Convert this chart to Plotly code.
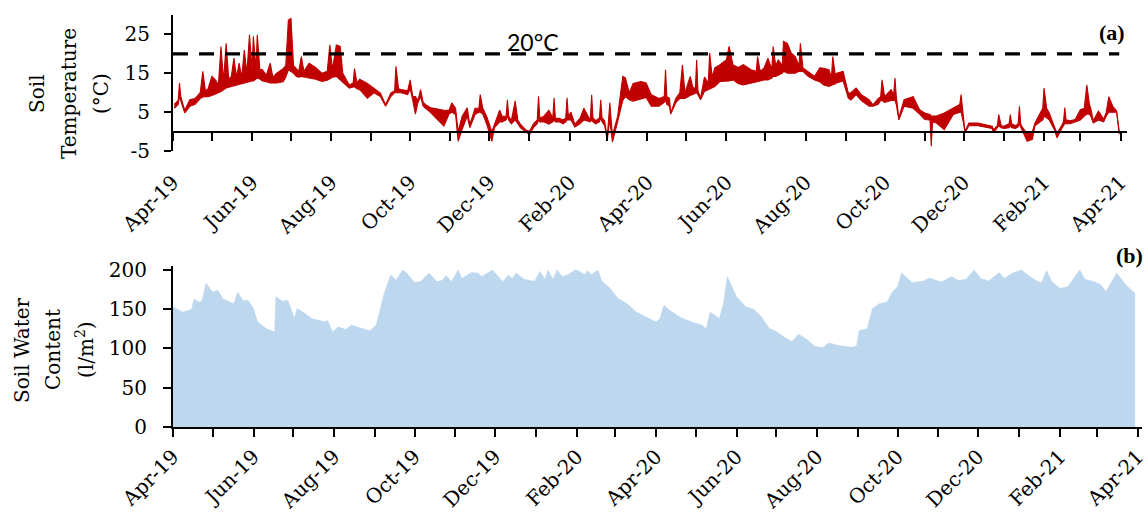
import plotly.graph_objects as go

# ---- Soil temperature (°C): upper and lower edge of the daily record ----
temp_dates = [
    "2019-04-02", "2019-04-05", "2019-04-06", "2019-04-07", "2019-04-10", "2019-04-14", "2019-04-18", "2019-04-22", "2019-04-24", "2019-04-26", "2019-04-28",
    "2019-05-01", "2019-05-04", "2019-05-06", "2019-05-08", "2019-05-10", "2019-05-12", "2019-05-14", "2019-05-16", "2019-05-18", "2019-05-20", "2019-05-22", "2019-05-24", "2019-05-26", "2019-05-28", "2019-05-30",
    "2019-06-01", "2019-06-02", "2019-06-04", "2019-06-05", "2019-06-07", "2019-06-09", "2019-06-12", "2019-06-15", "2019-06-17", "2019-06-20", "2019-06-25", "2019-06-27", "2019-06-29",
    "2019-07-01", "2019-07-03", "2019-07-05", "2019-07-07", "2019-07-09", "2019-07-11", "2019-07-15", "2019-07-20", "2019-07-25", "2019-07-29", "2019-07-31",
    "2019-08-02", "2019-08-05", "2019-08-08", "2019-08-10", "2019-08-15", "2019-08-18", "2019-08-19", "2019-08-21", "2019-08-23", "2019-08-29",
    "2019-09-03", "2019-09-08", "2019-09-12", "2019-09-16", "2019-09-19", "2019-09-20", "2019-09-22", "2019-09-24", "2019-09-29",
    "2019-10-01", "2019-10-03", "2019-10-05", "2019-10-07", "2019-10-09", "2019-10-11", "2019-10-13", "2019-10-17", "2019-10-22", "2019-10-27", "2019-10-31",
    "2019-11-02", "2019-11-05", "2019-11-07", "2019-11-10", "2019-11-14", "2019-11-16", "2019-11-20", "2019-11-23", "2019-11-24", "2019-11-26", "2019-11-29",
    "2019-12-03", "2019-12-05", "2019-12-09", "2019-12-11", "2019-12-14", "2019-12-15", "2019-12-16", "2019-12-18", "2019-12-21", "2019-12-23", "2019-12-25", "2019-12-29",
    "2020-01-01", "2020-01-04", "2020-01-07", "2020-01-08", "2020-01-09", "2020-01-12", "2020-01-16", "2020-01-19", "2020-01-20", "2020-01-21", "2020-01-24", "2020-01-27", "2020-01-29", "2020-01-30", "2020-01-31",
    "2020-02-02", "2020-02-05", "2020-02-09", "2020-02-12", "2020-02-16", "2020-02-17", "2020-02-18", "2020-02-19", "2020-02-21", "2020-02-24", "2020-02-25", "2020-02-26", "2020-02-28",
    "2020-03-01", "2020-03-03", "2020-03-05", "2020-03-09", "2020-03-11", "2020-03-13", "2020-03-15", "2020-03-18", "2020-03-21", "2020-03-27", "2020-03-31",
    "2020-04-04", "2020-04-10", "2020-04-14", "2020-04-15", "2020-04-16", "2020-04-18", "2020-04-19", "2020-04-23", "2020-04-26", "2020-04-28", "2020-04-30",
    "2020-05-04", "2020-05-06", "2020-05-08", "2020-05-09", "2020-05-10", "2020-05-12", "2020-05-15", "2020-05-18", "2020-05-19", "2020-05-21", "2020-05-23", "2020-05-27",
    "2020-06-01", "2020-06-03", "2020-06-06", "2020-06-10", "2020-06-14", "2020-06-20", "2020-06-24", "2020-06-25", "2020-06-27", "2020-06-30",
    "2020-07-03", "2020-07-06", "2020-07-07", "2020-07-09", "2020-07-11", "2020-07-14", "2020-07-15", "2020-07-18", "2020-07-21", "2020-07-24", "2020-07-27", "2020-07-28", "2020-07-30",
    "2020-08-03", "2020-08-08", "2020-08-12", "2020-08-15", "2020-08-19", "2020-08-21", "2020-08-22", "2020-08-24", "2020-08-25", "2020-08-30",
    "2020-09-03", "2020-09-05", "2020-09-09", "2020-09-13", "2020-09-19", "2020-09-22", "2020-09-26", "2020-09-28", "2020-09-29",
    "2020-10-01", "2020-10-06", "2020-10-08", "2020-10-09", "2020-10-10", "2020-10-12", "2020-10-16", "2020-10-23", "2020-10-28",
    "2020-11-01", "2020-11-05", "2020-11-06", "2020-11-07", "2020-11-10", "2020-11-16", "2020-11-23", "2020-11-28", "2020-11-29",
    "2020-12-01", "2020-12-02", "2020-12-05", "2020-12-12", "2020-12-23", "2020-12-24", "2020-12-27", "2020-12-28", "2020-12-30",
    "2021-01-01", "2021-01-05", "2021-01-06", "2021-01-07", "2021-01-10", "2021-01-12", "2021-01-13", "2021-01-14", "2021-01-15", "2021-01-19", "2021-01-23", "2021-01-25", "2021-01-29", "2021-01-31",
    "2021-02-01", "2021-02-03", "2021-02-05", "2021-02-09", "2021-02-11", "2021-02-15", "2021-02-16", "2021-02-17", "2021-02-18", "2021-02-21", "2021-02-25",
    "2021-03-01", "2021-03-04", "2021-03-06", "2021-03-08", "2021-03-09", "2021-03-11", "2021-03-15", "2021-03-19", "2021-03-21", "2021-03-23", "2021-03-26", "2021-03-29", "2021-03-31",
]
temp_high = [
    7, 8, 12.5, 9, 5.5, 8.2, 8.5, 10, 15.5, 10.5, 11,
    14.2, 13.2, 12, 21.9, 13, 22.7, 13.5, 14.2, 18.9, 14, 17.6, 14, 21, 15, 24.9,
    16, 24.5, 16, 24.9, 16, 15.9, 14.5, 17.6, 14, 15, 16.2, 17, 28.7,
    29.1, 17, 16.3, 15.5, 19.3, 15.5, 17.6, 16.5, 15, 15.5, 22.3,
    16, 22.3, 21.9, 15, 12, 12.5, 16.2, 12.5, 13.5, 12.4,
    11.2, 9.9, 6.9, 9.9, 10.5, 16.8, 11, 10.8, 10.5,
    13.3, 9, 9, 8, 10.8, 7.5, 6.9, 6.1, 5.8, 5.5, 5.5,
    7.4, 6, 0, 3.9, 6.1, 1.8, 6, 6, 9.5, 6, 3.9,
    0, 1.9, 5.5, 3.9, 4, 8.2, 4, 2.8, 7.9, 3, 1.9, 0.5,
    0, 1.9, 3, 9.1, 3.5, 3.9, 5.5, 3.5, 8.7, 3.5, 3.4, 3, 3.5, 8.7, 4,
    5, 1.9, 3.4, 6, 3.4, 3.5, 9.5, 3.5, 2.8, 3.5, 8.2, 3.5, 2.8,
    -1.6, 7.4, -1, 3.9, 9.9, 14.2, 13.8, 10, 12.4, 12.9, 12.5,
    9.5, 8.5, 9, 15.9, 9, 8.6, 4.8, 8.6, 10, 17.2, 10,
    14.2, 11.5, 11, 18.5, 10.5, 8.6, 14, 12.5, 20.2, 14, 16.4, 17.2,
    18.5, 21.9, 17.2, 16.5, 17.2, 15.9, 15.5, 19.3, 15.5, 16.4,
    18.9, 16, 21.9, 17, 18.5, 17, 23.2, 22.7, 20.2, 19.3, 17, 22.7, 16.4,
    15.5, 14.2, 16.4, 16.3, 15.9, 14, 19.3, 14.5, 15, 15.5,
    9.9, 10, 11.2, 9.5, 8.2, 6.9, 8.5, 9, 13.3,
    9, 10.8, 9.5, 13.8, 9, 3.5, 8.2, 9, 5.6,
    4.8, 4.4, 4, 4, 4, 4.8, 6.1, 7, 9.5,
    4, 0, 2.2, 2.2, 1.4, 0.5, 1.5, 4.4, 1.5,
    1.4, 2, 4.4, 2, 1.5, 2, 6.5, 2, 1.2, -0.5, 0, 2.2, 4.8, 6,
    11.2, 6, 4.8, 1.5, -0.5, 1.8, 2.5, 6.2, 3, 2.8, 3.1,
    5.6, 6, 12, 7, 6, 2.8, 5.3, 3.2, 5, 9, 6.5, 5.3, 0,
]
temp_low = [
    6, 7, 9, 8, 4.8, 6.5, 7, 8.5, 8.9, 9, 9,
    9.3, 9.6, 10, 10.3, 10.8, 11.2, 11.4, 11.6, 11.8, 12, 12, 12.2, 12.5, 12.7, 12.9,
    13, 13, 13.5, 13.8, 13.5, 13, 12.8, 12.5, 12.5, 12.5, 12.8, 14, 15.9,
    15.5, 15, 14.2, 14, 14.2, 14, 13.8, 13.5, 12.9, 13.2, 13.5,
    14, 14.2, 13.3, 12.8, 11.2, 11.5, 11.5, 11, 10.8, 8.6,
    10, 9, 6.5, 9, 10, 10, 10, 10, 9.5,
    11, 8, 4.5, 7.5, 9, 6.5, 6, 4.8, 3.1, 1.4, 4.5,
    5, 4.4, -2.5, 0.5, 4, 1, 4.4, 5, 5, 4.5, 1.9,
    -2.5, 1, 2.5, 2.5, 3, 4, 3, 2, 3, 2, 1, 0,
    -0.8, 1, 2, 3, 2.5, 2.5, 1.9, 2.5, 3, 2.5, 2.5, 2, 2.5, 3, 3,
    3, 1.2, 2, 3, 2.5, 2.5, 3, 2.5, 2, 2.5, 3.5, 2.5, 1.5,
    -2.2, 3, -2.7, 2.5, 5, 8, 9, 8.2, 7.8, 8.5, 8.8,
    6.5, 6.5, 7.5, 8, 7, 6.5, 4.5, 7.5, 8.5, 8.5, 8.5,
    9.3, 9.6, 9.8, 10, 9.5, 8.2, 10.3, 10.8, 11, 11.3, 11.6, 12.9,
    12.9, 13, 13.3, 12.4, 12, 12.4, 12.8, 12.9, 13, 13.3,
    13.3, 13.8, 14.2, 14.2, 14.5, 15, 15.5, 15, 15, 15, 15.5, 15.5, 15.5,
    14.2, 13.3, 12.8, 12, 11.6, 11.8, 12, 12.3, 12.5, 13,
    8.6, 8.1, 9.5, 8, 6.5, 6.5, 7, 8, 8,
    7.5, 8, 8, 8, 7, 3, 6.5, 6, 4.5,
    3.1, 3, -3.8, 2.5, 2.2, 0.5, 4.4, 5, 5,
    2, -0.3, 1.5, 1.5, 0.8, -0.3, 1, 1.5, 1,
    0.8, 1, 1.5, 1, 0.8, 1.2, 2, 1.2, 0.5, -2.5, -2, 1.5, 2.5, 3,
    4, 3.5, 3, 0.5, -1.6, 1, 1.5, 2, 2, 2, 2.5,
    3, 4, 4.5, 4.5, 4, 2.2, 3, 2.5, 4, 5, 5, 5, -0.7,
]
assert len(temp_dates) == len(temp_high) == len(temp_low)

temp_ticks = [-5, 5, 15, 25]
temp_tick_text = ["-5", "5", "15", "25"]
threshold_c = 20
threshold_label = "20°C"
temp_title_lines = ["Soil", "Temperature", "(°C)"]

# ---- Soil water content (l/m²) ----
swc_dates = [
    "2019-04-01", "2019-04-08", "2019-04-12", "2019-04-15", "2019-04-17", "2019-04-21", "2019-04-23",
    "2019-04-26", "2019-05-01", "2019-05-05", "2019-05-09", "2019-05-14", "2019-05-17", "2019-05-20",
    "2019-05-24", "2019-05-28", "2019-06-01", "2019-06-04", "2019-06-11", "2019-06-17", "2019-06-18",
    "2019-06-23", "2019-06-27", "2019-07-02", "2019-07-04", "2019-07-10", "2019-07-15", "2019-07-20",
    "2019-07-25", "2019-07-27", "2019-07-31", "2019-08-04", "2019-08-10", "2019-08-14", "2019-08-20",
    "2019-08-28", "2019-09-02", "2019-09-04", "2019-09-07", "2019-09-08", "2019-09-13", "2019-09-17",
    "2019-09-22", "2019-09-25", "2019-10-01", "2019-10-06", "2019-10-12", "2019-10-18", "2019-10-22",
    "2019-10-25", "2019-10-29", "2019-11-03", "2019-11-06", "2019-11-13", "2019-11-18", "2019-11-21",
    "2019-11-29", "2019-12-07", "2019-12-11", "2019-12-14", "2019-12-17", "2019-12-23", "2019-12-31",
    "2020-01-04", "2020-01-08", "2020-01-10", "2020-01-14", "2020-01-17", "2020-01-21", "2020-01-25",
    "2020-01-31", "2020-02-03", "2020-02-07", "2020-02-09", "2020-02-12", "2020-02-17", "2020-02-20",
    "2020-02-26", "2020-03-03", "2020-03-10", "2020-03-17", "2020-03-25", "2020-04-01", "2020-04-04",
    "2020-04-07", "2020-04-11", "2020-04-19", "2020-04-28", "2020-05-06", "2020-05-09", "2020-05-12",
    "2020-05-19", "2020-05-22", "2020-05-25", "2020-06-01", "2020-06-08", "2020-06-14", "2020-06-20",
    "2020-06-26", "2020-06-30", "2020-07-07", "2020-07-13", "2020-07-18", "2020-07-24", "2020-07-30",
    "2020-08-05", "2020-08-10", "2020-08-18", "2020-08-28", "2020-08-31", "2020-09-02", "2020-09-08",
    "2020-09-12", "2020-09-17", "2020-09-23", "2020-09-27", "2020-10-01", "2020-10-04", "2020-10-12",
    "2020-10-20", "2020-10-25", "2020-11-03", "2020-11-11", "2020-11-16", "2020-11-22", "2020-11-28",
    "2020-12-03", "2020-12-09", "2020-12-17", "2020-12-21", "2020-12-27", "2021-01-03", "2021-01-08",
    "2021-01-14", "2021-01-18", "2021-01-22", "2021-01-26", "2021-02-01", "2021-02-07", "2021-02-16",
    "2021-02-20", "2021-02-27", "2021-03-04", "2021-03-08", "2021-03-16", "2021-03-23", "2021-03-30",
]
swc_values = [
    153, 146.5, 148, 150, 163, 159, 161,
    183, 172, 174, 163, 159, 157, 172,
    161, 161, 151, 134, 125, 121, 166,
    160, 161.5, 138, 151, 144.5, 138, 136,
    134, 136, 121, 127.5, 124, 130, 126.6,
    122.4, 130, 144.5, 166, 170, 193.6, 187,
    200, 196, 184, 185.5, 196, 185, 187,
    193, 185, 200, 189, 196.6, 196, 191.5,
    200, 185, 193.6, 189, 196, 188, 185.5,
    198, 188, 200, 188, 200, 191.5, 194,
    200, 198, 194, 199, 194, 200, 185.5,
    177, 164, 157, 146.5, 140, 133.6, 138,
    155, 149, 140, 133.6, 129.4, 125, 146.5,
    138, 157, 191.5, 166, 153, 150, 140,
    125, 123, 114.5, 109, 118, 112, 103,
    101, 107, 103.6, 101.5, 103.6, 123, 125,
    151, 157, 159, 172, 178.6, 196, 184,
    185.5, 189.7, 184.5, 191.5, 186.6, 188, 200,
    189, 186, 196.6, 189, 196, 200, 193,
    186.5, 183.8, 199, 185, 176.5, 178.6, 200,
    188, 185, 181, 172.5, 196, 181, 170,
]
swc_ticks = [0, 50, 100, 150, 200]
swc_title_lines = ["Soil Water", "Content", "(l/m<sup>2</sup>)"]

RED = "#C00000"
BLUE_FILL = "#BDD7EE"
SERIF = "DejaVu Serif"
W, H = 1147, 521


def px_x(p):
    return p / W


def px_y(p):
    return 1 - p / H


fig = go.Figure()

# Temperature band: lower edge, then upper edge filled down to it
fig.add_trace(go.Scatter(
    x=temp_dates, y=temp_low, mode="lines",
    line=dict(color=RED, width=1.1), xaxis="x", yaxis="y",
    showlegend=False, hoverinfo="skip",
))
fig.add_trace(go.Scatter(
    x=temp_dates, y=temp_high, mode="lines", fill="tonexty", fillcolor=RED,
    line=dict(color=RED, width=1.1), xaxis="x", yaxis="y",
    showlegend=False,
))
# 20 °C reference line
fig.add_trace(go.Scatter(
    x=["2019-04-01", "2021-03-31"], y=[threshold_c, threshold_c], mode="lines",
    line=dict(color="black", width=3.2, dash="15px,11px"), xaxis="x", yaxis="y",
    showlegend=False, hoverinfo="skip",
))
# Soil water content area
fig.add_trace(go.Scatter(
    x=swc_dates, y=swc_values, mode="lines", fill="tozeroy", fillcolor=BLUE_FILL,
    line=dict(color=BLUE_FILL, width=0.5), xaxis="x2", yaxis="y2",
    showlegend=False,
))

tick_font = dict(family=SERIF, size=20, color="black")
common_x = dict(
    type="date", tickformat="%b-%y", dtick="M2", tick0="2019-04-01",
    tickangle=-45, ticks="outside", ticklen=8, tickwidth=2, tickcolor="black",
    minor=dict(dtick="M1", tick0="2019-04-01", ticks="outside", ticklen=8, tickwidth=2, tickcolor="black"),
    showline=True, linecolor="black", linewidth=2, showgrid=False, zeroline=False,
    tickfont=tick_font, automargin=False, ticklabeloverflow="allow",
)
common_y = dict(
    ticks="outside", ticklen=7, tickwidth=2, tickcolor="black",
    showline=True, linecolor="black", linewidth=2, showgrid=False, zeroline=False,
    tickfont=tick_font, automargin=False,
)

title_font = dict(family=SERIF, size=20, color="black")
annotations = []
for line_text, x_px in zip(temp_title_lines, [37, 69, 101]):
    annotations.append(dict(
        text=line_text, textangle=-90, xref="paper", yref="paper",
        x=px_x(x_px), y=px_y(94), xanchor="center", yanchor="middle",
        showarrow=False, font=title_font,
    ))
for line_text, x_px in zip(swc_title_lines, [22, 53, 85]):
    annotations.append(dict(
        text=line_text, textangle=-90, xref="paper", yref="paper",
        x=px_x(x_px), y=px_y(350), xanchor="center", yanchor="middle",
        showarrow=False, font=title_font,
    ))
annotations += [
    dict(text=threshold_label, xref="x", yref="y", x="2020-01-04", y=threshold_c,
         yanchor="bottom", xanchor="center", showarrow=False, yshift=-4,
         font=dict(family="Lato", size=23, color="black")),
    dict(text="<b>(a)</b>", xref="paper", yref="paper", x=px_x(1127), y=px_y(32),
         xanchor="right", yanchor="middle", showarrow=False,
         font=dict(family="Liberation Serif", size=22, color="black")),
    dict(text="<b>(b)</b>", xref="paper", yref="paper", x=px_x(1114), y=px_y(255),
         xanchor="left", yanchor="middle", showarrow=False,
         font=dict(family="Liberation Serif", size=22, color="black")),
]

fig.update_layout(
    width=W, height=H,
    margin=dict(l=0, r=0, t=0, b=0),
    paper_bgcolor="white", plot_bgcolor="white",
    xaxis=dict(
        common_x,
        domain=[px_x(173), px_x(1127)],
        range=["2019-04-01", "2021-04-06"],
        anchor="free", position=px_y(131.6),
        ticklabelstandoff=22,
    ),
    yaxis=dict(
        common_y,
        domain=[px_y(151), px_y(15)], range=[-5, 30],
        tickvals=temp_ticks, ticktext=temp_tick_text,
        anchor="x", ticklabelstandoff=10,
    ),
    xaxis2=dict(
        common_x,
        domain=[px_x(173), px_x(1141.7)],
        range=["2019-04-01", "2021-04-04"],
        anchor="y2",
    ),
    yaxis2=dict(
        common_y,
        domain=[px_y(427), px_y(266)], range=[0, 205],
        tickvals=swc_ticks, ticklen=8,
        anchor="x2", ticklabelstandoff=12,
    ),
    annotations=annotations,
)

fig.write_html("out.html")
